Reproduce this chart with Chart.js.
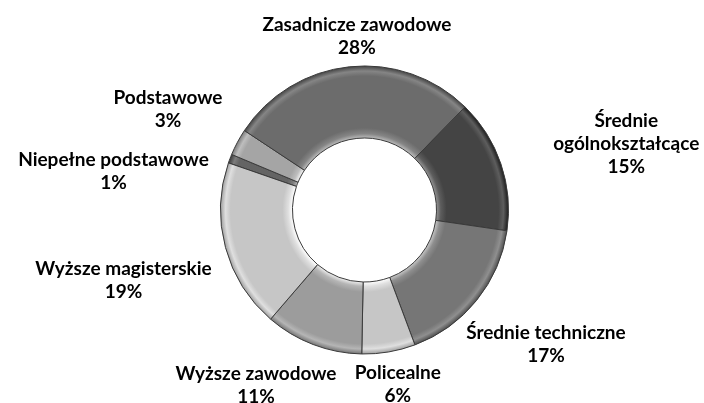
<!DOCTYPE html>
<html>
<head>
<meta charset="utf-8">
<script src="https://cdn.jsdelivr.net/npm/chart.js@4/dist/chart.umd.min.js"></script>
<style>
  body { margin: 0; background: #fff; }
  #wrap { width: 704px; height: 403px; position: relative; }
</style>
</head>
<body>
<div id="wrap"><canvas id="pie-chart"></canvas></div>
<script>
// categories, clockwise from the slice that starts at the left-top
var categories = ['Niepełne podstawowe', 'Podstawowe', 'Zasadnicze zawodowe', ['Średnie', 'ogólnokształcące'],
    'Średnie techniczne', 'Policealne', 'Wyższe zawodowe', 'Wyższe magisterskie'];
var shares = [1, 3, 28, 15, 17, 6, 11, 19]; // in %
var greys = [100, 165, 108, 68, 118, 198, 156, 198]; // grey level of each slice

// where each label sits: gap beyond the ring and turn (deg) from the slice middle
var labelGap = [110, 77, 30, 126, 82, 34, 62, 107];
var labelTurn = [-12.1, -0.9, 3.6, 4.5, -2.3, -1.1, 10.9, -1.1];

function grey(v) {
    v = Math.max(0, Math.min(255, Math.round(v)));
    return 'rgb(' + v + ',' + v + ',' + v + ')';
}

function bevelFill(context) {
    var chart = context.chart;
    var area = chart.chartArea;
    var g = greys[context.dataIndex];
    if (!area) {
        return grey(g);
    }
    var cx = (area.left + area.right) / 2;
    var cy = (area.top + area.bottom) / 2;
    var outer = (Math.min(area.width, area.height) - 1) / 2;
    var inner = outer * 0.5;
    var grad = chart.ctx.createRadialGradient(cx, cy, inner, cx, cy, outer);
    grad.addColorStop(0, grey(g + 80));
    grad.addColorStop(0.06, grey(g + 25));
    grad.addColorStop(0.14, grey(g));
    grad.addColorStop(0.86, grey(g));
    grad.addColorStop(0.93, grey(g + 25));
    grad.addColorStop(1, grey(g - 40));
    return grad;
}

var outsideLabels = {
    id: 'outsideLabels',
    afterDatasetsDraw: function (chart) {
        var ctx = chart.ctx;
        var meta = chart.getDatasetMeta(0);
        ctx.save();
        ctx.font = 'bold 19px Lato';
        ctx.fillStyle = '#000';
        ctx.textAlign = 'center';
        ctx.textBaseline = 'middle';
        meta.data.forEach(function (arc, i) {
            var p = arc.getProps(['x', 'y', 'startAngle', 'endAngle', 'outerRadius'], true);
            var a = (p.startAngle + p.endAngle) / 2 + labelTurn[i] * Math.PI / 180;
            var d = p.outerRadius + labelGap[i];
            var lx = p.x + d * Math.cos(a);
            var ly = p.y + d * Math.sin(a);
            var lines = [].concat(categories[i]);
            lines.push(shares[i] + '%');
            var lh = 23;
            var top = ly - (lines.length - 1) * lh / 2;
            lines.forEach(function (t, k) {
                ctx.fillText(t, lx, top + k * lh);
            });
        });
        ctx.restore();
    }
};

new Chart(document.getElementById('pie-chart'), {
    type: 'doughnut',
    data: {
        labels: categories,
        datasets: [{
            data: shares,
            backgroundColor: bevelFill,
            borderColor: '#3a3a3a',
            borderWidth: 1
        }]
    },
    options: {
        responsive: true,
        maintainAspectRatio: false,
        animation: false,
        cutout: '50%',
        rotation: -70.9,
        layout: {
            padding: { left: 220, right: 195, top: 65.5, bottom: 48.5 }
        },
        plugins: {
            legend: { display: false },
            tooltip: { enabled: false }
        }
    },
    plugins: [outsideLabels]
});
</script>
</body>
</html>
